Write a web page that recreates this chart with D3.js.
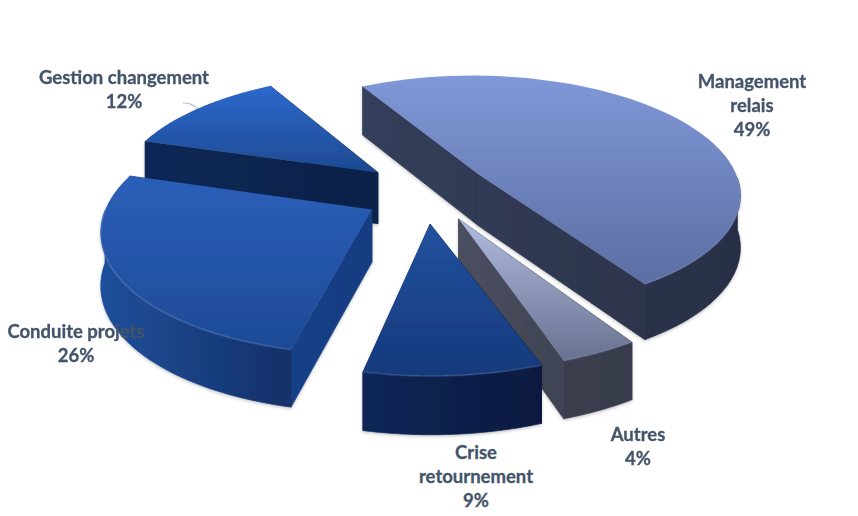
<!DOCTYPE html>
<html><head><meta charset="utf-8">
<script src="https://cdn.jsdelivr.net/npm/d3@7"></script>
<style>html,body{margin:0;background:#fff}svg{display:block}</style></head>
<body><svg id="c" width="858" height="516"></svg>
<script>
const categories = ["Management relais","Autres","Crise retournement","Conduite projets","Gestion changement"];
const values = [49,4,9,26,12];
const labelLines = [["Management","relais"],["Autres"],["Crise","retournement"],["Conduite projets"],["Gestion changement"]];

// layout and styling, kept apart from the data
const explode = [0.24,0.27,0.27,0.23,0.26];
const tiltDeg = [-1,-1,-3,-2,-2];
const shiftX = [-2,-1,-3,-3,2];
const shiftY = [1,1,3,8,3];
const labelPos = [[752,88],[638,441],[476,459],[76,338],[124,84]];
const topCols = [["#8098d8","#5c6ea2"],["#b0bce0","#69718f"],["#22529f","#16397c"],["#2b5fb9","#1d4a96"],["#2d68cc","#1d4a92"]];
const wallCols = [["#2b3249","#282f46"],["#3b3e4e","#383b4b"],["#0b2657","#07193f"],["#1f4f9b","#143068"],["#0f2855","#0c2149"]];
const cutCols = [["#343f5b","#2a3047"],["#4b4f61","#383b4b"],["#0b2657","#07193f"],["#1e4b98","#173c80"],["#0f2855","#0c2149"]];
const drawOrder = [4,0,1,3,2];
const cx=428, cy=188, Rx=262, Ry=118, P=0.15, D=52, startDeg=-28;

const svg=d3.select("#c"), defs=svg.append("defs");
const f=defs.append("filter").attr("id","soft").attr("x","-5%").attr("y","-5%").attr("width","110%").attr("height","115%");
f.append("feDropShadow").attr("dx",0).attr("dy",1.5).attr("stdDeviation",1.5).attr("flood-color","#000").attr("flood-opacity",0.22);
const bl=defs.append("filter").attr("id","blur").attr("x","-5%").attr("y","-5%").attr("width","110%").attr("height","110%");
bl.append("feGaussianBlur").attr("stdDeviation",0.45);

function grad(id,cols,vertical,ext){
  const g=defs.append("linearGradient").attr("id",id);
  if(ext) g.attr("gradientUnits","userSpaceOnUse").attr("x1",ext[0]).attr("y1",0).attr("x2",ext[1]).attr("y2",0);
  else g.attr("x1",0).attr("y1",0).attr("x2",vertical?0:1).attr("y2",vertical?1:0);
  g.append("stop").attr("offset",0).attr("stop-color",cols[0]);
  g.append("stop").attr("offset",1).attr("stop-color",cols[1]);
}
const proj=(u,v,z)=>{const s=1/(1-P*v);return [cx+Rx*u*s, cy+Ry*v*s+z*D*(1+(s-1)*0.55)];};
const pie=d3.pie().sort(null).value(d=>d).startAngle(startDeg*Math.PI/180).endAngle((startDeg+360)*Math.PI/180);
const line=d3.line().curve(d3.curveLinear);
const arcs=pie(values);
const root=svg.append("g").attr("filter","url(#blur)");

drawOrder.forEach(i=>{
  const a=arcs[i], tilt=tiltDeg[i]*Math.PI/180, a0=a.startAngle+tilt, a1=a.endAngle+tilt, mid=(a0+a1)/2;
  const ou=explode[i]*Math.sin(mid), ov=-explode[i]*Math.cos(mid);
  const ang=d3.range(0,61).map(k=>a0+(a1-a0)*k/60);
  const pts=ang.map(t=>[ou+Math.sin(t),ov-Math.cos(t)]);
  const front=ang.filter(t=>Math.cos(t)<0.02).map(t=>[ou+Math.sin(t),ov-Math.cos(t)]);
  const top=[[ou,ov],...pts].map(p=>proj(p[0],p[1],0));
  grad("t"+i,topCols[i],true); grad("w"+i,wallCols[i],false); grad("c"+i,cutCols[i],false,d3.extent(top,d=>d[0]));
  const g=root.append("g").attr("filter","url(#soft)").attr("transform",`translate(${shiftX[i]},${shiftY[i]})`);
  const wallPoly=(list)=>list.map(p=>proj(p[0],p[1],0)).concat(list.slice().reverse().map(p=>proj(p[0],p[1],1)));
  const walls=[
    {poly:wallPoly([[ou,ov],pts[0]]),fill:"url(#c"+i+")"},
    {poly:wallPoly([[ou,ov],pts[60]]),fill:"url(#c"+i+")"},
    {poly:wallPoly(front),fill:"url(#w"+i+")"}
  ];
  g.selectAll("path.wall").data(walls).join("path").attr("class","wall").attr("d",d=>line(d.poly)+"Z").attr("fill",d=>d.fill).attr("stroke",d=>d.fill).attr("stroke-width",0.7);
  g.append("path").attr("d",line(top)+"Z").attr("fill","url(#t"+i+")");
  g.append("path").attr("d",line(front.map(p=>proj(p[0],p[1],0)))).attr("fill","none").attr("stroke","#9db4e8").attr("stroke-opacity",0.18).attr("stroke-width",2);
});

// small leader line of the Gestion label
svg.append("path").attr("d",d3.line().curve(d3.curveBasis)([[183,103],[190,103],[197,108]])).attr("fill","none").attr("stroke","#b9c0cc").attr("stroke-width",1.2);

const labels=svg.append("g").attr("font-family","Lato, 'Open Sans', sans-serif").attr("font-weight",700).attr("font-size",18.5).attr("fill","#44546a").attr("stroke","#44546a").attr("stroke-width",0.3).attr("text-anchor","middle");
arcs.forEach((a,i)=>{
  const ls=labelLines[i].concat([a.value+"%"]);
  const t=labels.append("text").attr("transform",`translate(${labelPos[i][0]},${labelPos[i][1]})`);
  ls.forEach((s,k)=>t.append("tspan").attr("x",0).attr("y",k*24).text(s));
});
</script></body></html>
